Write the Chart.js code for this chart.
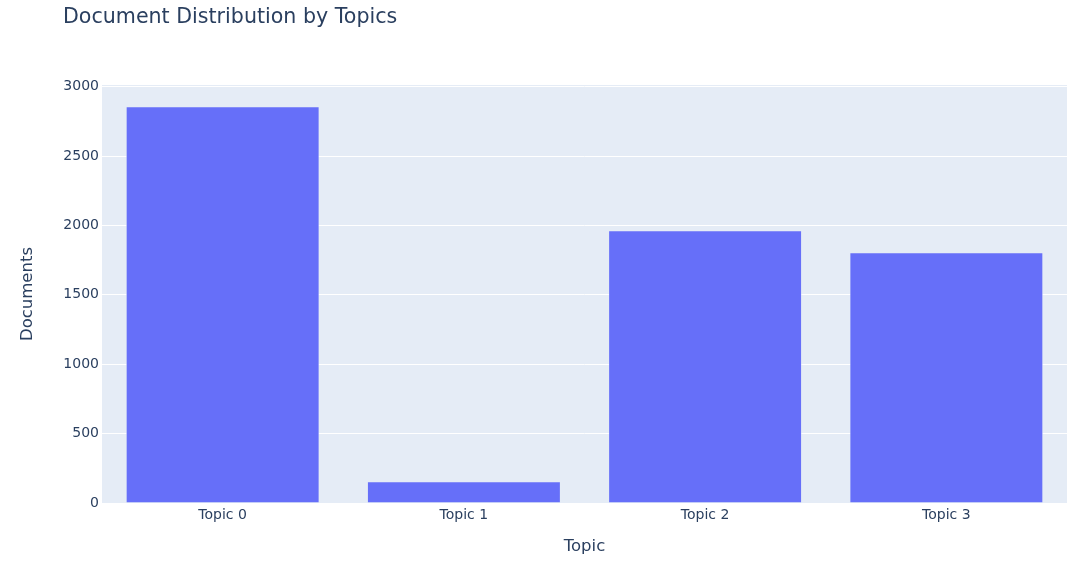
<!DOCTYPE html>
<html>
<head>
<meta charset="utf-8">
<script src="https://cdn.jsdelivr.net/npm/chart.js@4/dist/chart.umd.min.js"></script>
<style>
  html, body { margin: 0; padding: 0; background: #fff; }
  #wrap { width: 1080px; height: 564px; position: relative; }
</style>
</head>
<body>
<div id="wrap"><canvas id="chart" width="1080" height="564"></canvas></div>
<script>
const topics = ["Topic 0", "Topic 1", "Topic 2", "Topic 3"];
const documents = [2855, 153, 1962, 1803];
const yTicks = [0, 500, 1000, 1500, 2000, 2500, 3000];

const FONT = "'DejaVu Sans', Verdana, sans-serif";
const INK = "#2a3f5f";

// plot background + title, plotly style
const plotBg = {
  id: "plotBg",
  beforeDraw(chart) {
    const { ctx, chartArea: a } = chart;
    ctx.save();
    ctx.fillStyle = "#e5ecf6";
    ctx.fillRect(a.left, a.top, a.right - a.left, a.bottom - a.top);
    ctx.restore();
  },
  afterDraw(chart) {
    const ctx = chart.ctx;
    ctx.save();
    ctx.fillStyle = INK;
    ctx.font = "20.6px " + FONT;
    ctx.textBaseline = "middle";
    ctx.fillText("Document Distribution by Topics", 63, 17.5);
    ctx.restore();
  }
};

new Chart(document.getElementById("chart").getContext("2d"), {
  type: "bar",
  data: {
    labels: topics,
    datasets: [{
      data: documents,
      backgroundColor: "#666ff9",
      borderColor: "#e5ecf6",
      borderWidth: 0.5,
      barPercentage: 0.8,
      categoryPercentage: 1
    }]
  },
  options: {
    responsive: false,
    animation: false,
    layout: { padding: { left: 18, right: 13, top: 85, bottom: 7 } },
    plugins: { legend: { display: false }, tooltip: { enabled: false }, title: { display: false } },
    scales: {
      x: {
        grid: { display: false, drawTicks: false },
        border: { display: false },
        ticks: { color: INK, font: { family: FONT, size: 14 }, padding: 4 },
        title: { display: true, text: "Topic", color: INK, font: { family: FONT, size: 16.5 }, padding: 0 },
        afterFit(s) { s.height = 54; }
      },
      y: {
        min: 0,
        max: 3012,
        border: { display: false },
        grid: { color: "#ffffff", lineWidth: 1, drawTicks: false },
        ticks: { color: INK, font: { family: FONT, size: 14 }, padding: 3, callback: v => String(v) },
        afterBuildTicks(s) { s.ticks = yTicks.map(v => ({ value: v })); },
        title: { display: true, text: "Documents", color: INK, font: { family: FONT, size: 16.5 }, padding: 0 },
        afterFit(s) { s.width = 84; }
      }
    }
  },
  plugins: [plotBg]
});
</script>
</body>
</html>
